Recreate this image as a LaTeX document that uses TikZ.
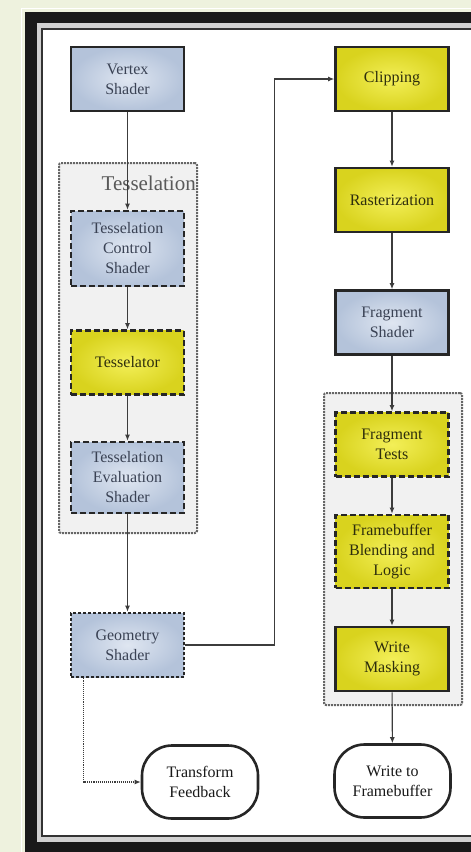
\documentclass[tikz,border=0pt]{standalone}
\usepackage{fontspec}
\setmainfont{Liberation Serif}
\usetikzlibrary{positioning}
\usetikzlibrary{arrows.meta}

\definecolor{bgcol}{HTML}{EEF2DE}
\definecolor{shadein}{HTML}{DFE6F1}
\definecolor{shadeout}{HTML}{B4C3DA}
\definecolor{yellin}{HTML}{F3EF58}
\definecolor{yellout}{HTML}{D9D31E}
\definecolor{edgecol}{HTML}{262626}
\definecolor{grpcol}{HTML}{F1F1F1}
\definecolor{linecol}{HTML}{3C3C3C}
\definecolor{bluetext}{HTML}{3A4254}
\definecolor{yeltext}{HTML}{2E2E0C}

\begin{document}
\begin{tikzpicture}[x=1pt, y=-1pt, every node/.style={inner sep=1pt},
	stagebox/.style={rectangle, draw=edgecol, line width=2.6pt, minimum width=113, minimum height=64, align=center, font=\fontsize{16}{20}\selectfont},
	shaderbox/.style={stagebox, inner color=shadein, outer color=shadeout, text=bluetext},
	fixedbox/.style={stagebox, inner color=yellin, outer color=yellout, text=yeltext},
	optshader/.style={shaderbox, dash pattern=on 6pt off 3pt},
	optfixed/.style={fixedbox, dash pattern=on 6pt off 3pt},
	groupbox/.style={rectangle, draw=black!60, densely dotted, line width=2pt, fill=grpcol, rounded corners=2pt},
	endbox/.style={rectangle, rounded corners=30pt, draw=edgecol, line width=2.6pt, fill=white, minimum width=116, minimum height=73, align=center, font=\fontsize{16}{20}\selectfont, text=black!90},
	arr/.style={draw=linecol, line width=1.1pt, -{Latex[length=6pt,width=5pt]}}]
		\useasboundingbox (0,0) rectangle (471,852);

		% Page and frame
		\fill[bgcol] (0,0) rectangle (471,852);
		\draw[white, line width=1pt] (21,8) rectangle (480,870);
		\fill[black!90] (25,12) rectangle (480,860);
		\fill[black!18] (37,23) rectangle (480,842);
		\draw[black!80, line width=1.5pt] (42,29) rectangle (480,836);
		\fill[white] (43,30) rectangle (480,835);

		% Groups
		\node[groupbox, minimum width=138, minimum height=370] (tessgrp) at (128,348) {};
		\node[groupbox, minimum width=138, minimum height=312] (fraggrp) at (393,549) {};
		\node[anchor=east, font=\fontsize{21}{24}\selectfont, text=black!65] (tesslbl) at (197,183) {Tesselation};

		% Geometry stages
		\node[shaderbox] (vert) at (127.5,79) {Vertex\\Shader};
		\node[optshader, minimum height=75] (tcs) at (127.5,248.5) {Tesselation\\Control\\Shader};
		\node[optfixed] (tess) at (127.5,362.5) {Tesselator};
		\node[optshader, minimum height=71] (tes) at (127.5,477.5) {Tesselation\\Evaluation\\Shader};
		\node[shaderbox, dash pattern=on 3pt off 2pt] (geom) at (127.5,645) {Geometry\\Shader};
		\node[endbox] (tf) at (200,782) {Transform\\Feedback};

		% Raster stages
		\node[fixedbox] (clip) at (392,79) {Clipping};
		\node[fixedbox] (rast) at (392,200) {Rasterization};
		\node[shaderbox] (frag) at (392,322.5) {Fragment\\Shader};
		\node[optfixed] (ftest) at (392,444.5) {Fragment\\Tests};
		\node[optfixed, minimum height=73] (blend) at (392,551.5) {Framebuffer\\Blending and\\Logic};
		\node[fixedbox] (mask) at (392,659) {Write\\Masking};
		\node[endbox] (wfb) at (392.5,781) {Write to\\Framebuffer};

		% Edges
		\draw[arr] (vert) -- (tcs);
		\draw[arr] (tcs) -- (tess);
		\draw[arr] (tess) -- (tes);
		\draw[arr] (tes) -- (geom);
		\draw[arr] (geom.east) -- ++(89,0) |- (clip.west);
		\draw[arr, densely dotted] ([xshift=14pt]geom.south west) |- (tf.west);
		\draw[arr] (clip) -- (rast);
		\draw[arr] (rast) -- (frag);
		\draw[arr] (frag) -- (ftest);
		\draw[arr] (ftest) -- (blend);
		\draw[arr] (blend) -- (mask);
		\draw[arr] (mask) -- (wfb);
	\end{tikzpicture}
\end{document}
